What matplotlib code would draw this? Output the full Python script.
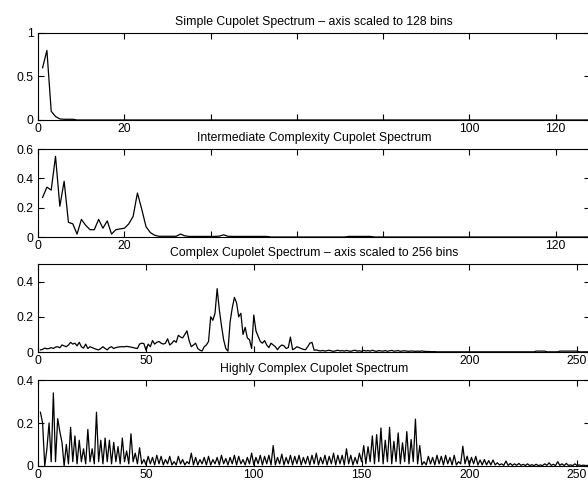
import matplotlib
matplotlib.use('Agg')
import matplotlib.pyplot as plt

plt.rcParams['font.family'] = ['Liberation Sans', 'DejaVu Sans']

# Spectrum titles, top to bottom
titles = [
    'Simple Cupolet Spectrum \u2013 axis scaled to 128 bins',
    'Intermediate Complexity Cupolet Spectrum',
    'Complex Cupolet Spectrum \u2013 axis scaled to 256 bins',
    'Highly Complex Cupolet Spectrum',
]

# Simple cupolet, 128 bins
simple_spectrum = [
    0.60, 0.80, 0.10, 0.04, 0.012, 0.008, 0.008, 0.008, 0.0, 0.0, 0.0, 0.0, 0.0, 0.0, 0.0, 0.0,
    0.0, 0.0, 0.0, 0.0, 0.0, 0.0, 0.0, 0.0, 0.0, 0.0, 0.0, 0.0, 0.0, 0.0, 0.0, 0.0,
    0.0, 0.0, 0.0, 0.0, 0.0, 0.0, 0.0, 0.0, 0.0, 0.0, 0.0, 0.0, 0.0, 0.0, 0.0, 0.0,
    0.0, 0.0, 0.0, 0.0, 0.0, 0.0, 0.0, 0.0, 0.0, 0.0, 0.0, 0.0, 0.0, 0.0, 0.0, 0.0,
    0.0, 0.0, 0.0, 0.0, 0.0, 0.0, 0.0, 0.0, 0.0, 0.0, 0.0, 0.0, 0.0, 0.0, 0.0, 0.0,
    0.0, 0.0, 0.0, 0.0, 0.0, 0.0, 0.0, 0.0, 0.0, 0.0, 0.0, 0.0, 0.0, 0.0, 0.0, 0.0,
    0.0, 0.0, 0.0, 0.0, 0.0, 0.0, 0.0, 0.0, 0.0, 0.0, 0.0, 0.0, 0.0, 0.0, 0.0, 0.0,
    0.0, 0.0, 0.0, 0.0, 0.0, 0.0, 0.0, 0.0, 0.0, 0.0, 0.0, 0.0, 0.0, 0.0, 0.0, 0.0,
]

# Intermediate complexity cupolet, 128 bins
intermediate_spectrum = [
    0.27, 0.34, 0.32, 0.55, 0.21, 0.38, 0.10, 0.09, 0.02, 0.12, 0.08, 0.05, 0.05, 0.12, 0.06, 0.11,
    0.02, 0.05, 0.055, 0.06, 0.09, 0.14, 0.30, 0.19, 0.07, 0.03, 0.012, 0.005, 0.005, 0.005, 0.005, 0.005,
    0.02, 0.008, 0.004, 0.004, 0.004, 0.004, 0.004, 0.004, 0.004, 0.006, 0.015, 0.005, 0.004, 0.004, 0.004, 0.004,
    0.004, 0.004, 0.004, 0.004, 0.004, 0.0, 0.0, 0.0, 0.0, 0.0, 0.0, 0.0, 0.0, 0.0, 0.0, 0.0,
    0.0, 0.0, 0.0, 0.0, 0.0, 0.0, 0.0, 0.004, 0.004, 0.004, 0.004, 0.004, 0.004, 0.0, 0.0, 0.0,
    0.0, 0.0, 0.0, 0.0, 0.0, 0.0, 0.0, 0.0, 0.0, 0.0, 0.0, 0.0, 0.0, 0.0, 0.0, 0.0,
    0.0, 0.0, 0.0, 0.0, 0.0, 0.0, 0.0, 0.0, 0.0, 0.0, 0.0, 0.0, 0.0, 0.0, 0.0, 0.0,
    0.0, 0.0, 0.0, 0.0, 0.0, 0.0, 0.0, 0.0, 0.0, 0.0, 0.0, 0.0, 0.0, 0.0, 0.0, 0.0,
]

# Complex cupolet, 256 bins
complex_spectrum = [
    0.012, 0.015, 0.022, 0.018, 0.02, 0.025, 0.02, 0.028, 0.03, 0.024, 0.04, 0.035, 0.03, 0.04, 0.055, 0.045,
    0.05, 0.035, 0.055, 0.03, 0.022, 0.045, 0.02, 0.03, 0.025, 0.02, 0.015, 0.012, 0.02, 0.03, 0.02, 0.012,
    0.025, 0.03, 0.02, 0.025, 0.028, 0.03, 0.03, 0.03, 0.032, 0.03, 0.028, 0.025, 0.022, 0.02, 0.045, 0.05,
    0.048, 0.01, 0.045, 0.03, 0.065, 0.045, 0.055, 0.06, 0.05, 0.045, 0.05, 0.075, 0.04, 0.05, 0.065, 0.055,
    0.095, 0.085, 0.08, 0.10, 0.12, 0.065, 0.03, 0.04, 0.05, 0.02, 0.01, 0.006, 0.03, 0.04, 0.06, 0.20,
    0.18, 0.22, 0.36, 0.24, 0.15, 0.07, 0.02, 0.005, 0.17, 0.25, 0.31, 0.28, 0.20, 0.22, 0.10, 0.14,
    0.08, 0.07, 0.02, 0.21, 0.12, 0.09, 0.06, 0.05, 0.065, 0.04, 0.025, 0.05, 0.04, 0.03, 0.013, 0.03,
    0.04, 0.035, 0.02, 0.025, 0.085, 0.013, 0.02, 0.03, 0.025, 0.02, 0.015, 0.013, 0.03, 0.05, 0.055, 0.01,
    0.012, 0.008, 0.006, 0.009, 0.005, 0.008, 0.01, 0.006, 0.004, 0.007, 0.01, 0.006, 0.008, 0.005, 0.009, 0.006,
    0.004, 0.008, 0.01, 0.005, 0.007, 0.004, 0.009, 0.006, 0.008, 0.005, 0.01, 0.006, 0.004, 0.008, 0.006, 0.005,
    0.008, 0.004, 0.007, 0.009, 0.005, 0.006, 0.008, 0.004, 0.006, 0.007, 0.005, 0.004, 0.006, 0.005, 0.004, 0.005,
    0.004, 0.006, 0.004, 0.003, 0.003, 0.002, 0.002, 0.002, 0.001, 0.001, 0.001, 0.001, 0.001, 0.001, 0.001, 0.001,
    0.001, 0.001, 0.001, 0.001, 0.001, 0.001, 0.001, 0.001, 0.001, 0.001, 0.001, 0.001, 0.001, 0.001, 0.001, 0.001,
    0.001, 0.001, 0.001, 0.001, 0.001, 0.001, 0.001, 0.001, 0.001, 0.001, 0.001, 0.001, 0.001, 0.001, 0.001, 0.001,
    0.001, 0.001, 0.001, 0.001, 0.001, 0.001, 0.005, 0.005, 0.005, 0.005, 0.005, 0.001, 0.001, 0.001, 0.001, 0.001,
    0.001, 0.005, 0.005, 0.005, 0.005, 0.005, 0.005, 0.005, 0.005, 0.005, 0.001, 0.001, 0.001, 0.001, 0.001, 0.001,
]

# Highly complex cupolet, 256 bins
highly_complex_spectrum = [
    0.25, 0.20, 0.0, 0.08, 0.20, 0.02, 0.34, 0.02, 0.22, 0.16, 0.11, 0.0, 0.10, 0.01, 0.18, 0.02,
    0.14, 0.01, 0.12, 0.02, 0.08, 0.01, 0.17, 0.02, 0.08, 0.01, 0.25, 0.02, 0.12, 0.01, 0.13, 0.02,
    0.12, 0.01, 0.11, 0.02, 0.09, 0.01, 0.13, 0.02, 0.07, 0.01, 0.15, 0.02, 0.06, 0.01, 0.085, 0.01,
    0.03, 0.005, 0.045, 0.01, 0.04, 0.005, 0.05, 0.01, 0.045, 0.005, 0.03, 0.01, 0.045, 0.005, 0.02, 0.005,
    0.045, 0.01, 0.03, 0.005, 0.02, 0.01, 0.06, 0.005, 0.04, 0.005, 0.03, 0.01, 0.04, 0.005, 0.045, 0.005,
    0.03, 0.01, 0.04, 0.005, 0.05, 0.01, 0.035, 0.005, 0.04, 0.01, 0.05, 0.005, 0.045, 0.01, 0.03, 0.005,
    0.04, 0.01, 0.06, 0.005, 0.04, 0.01, 0.05, 0.005, 0.045, 0.01, 0.05, 0.005, 0.095, 0.005, 0.04, 0.01,
    0.055, 0.005, 0.04, 0.01, 0.05, 0.005, 0.045, 0.01, 0.05, 0.005, 0.04, 0.01, 0.045, 0.005, 0.05, 0.01,
    0.06, 0.005, 0.04, 0.01, 0.05, 0.005, 0.045, 0.01, 0.06, 0.005, 0.05, 0.01, 0.05, 0.005, 0.08, 0.01,
    0.05, 0.005, 0.04, 0.01, 0.06, 0.02, 0.095, 0.01, 0.09, 0.02, 0.14, 0.01, 0.146, 0.02, 0.177, 0.01,
    0.12, 0.02, 0.18, 0.01, 0.115, 0.02, 0.154, 0.01, 0.108, 0.02, 0.16, 0.01, 0.123, 0.02, 0.218, 0.01,
    0.095, 0.005, 0.02, 0.005, 0.045, 0.01, 0.04, 0.005, 0.05, 0.01, 0.045, 0.005, 0.05, 0.01, 0.04, 0.005,
    0.05, 0.005, 0.02, 0.01, 0.092, 0.01, 0.046, 0.005, 0.04, 0.01, 0.045, 0.005, 0.028, 0.005, 0.03, 0.005,
    0.025, 0.005, 0.028, 0.005, 0.015, 0.005, 0.01, 0.003, 0.023, 0.003, 0.012, 0.003, 0.01, 0.003, 0.012, 0.003,
    0.008, 0.002, 0.01, 0.002, 0.006, 0.002, 0.008, 0.002, 0.005, 0.002, 0.01, 0.003, 0.015, 0.003, 0.008, 0.002,
    0.02, 0.003, 0.01, 0.002, 0.012, 0.003, 0.005, 0.002, 0.01, 0.002, 0.005, 0.002, 0.004, 0.002, 0.003, 0.002,
]

# Axis limits and ticks for each panel
xlims = [128, 128, 256, 256]
ylims = [1.0, 0.6, 0.5, 0.4]
xticks_128 = [0, 20, 40, 60, 80, 100, 120]
xticks_256 = [0, 50, 100, 150, 200, 250]
yticks = [[0, 0.5, 1], [0, 0.2, 0.4, 0.6], [0, 0.2, 0.4], [0, 0.2, 0.4]]
ytick_labels = [['0', '0.5', '1'], ['0', '0.2', '0.4', '0.6'], ['0', '0.2', '0.4'], ['0', '0.2', '0.4']]
# labels under a following panel's title are left blank
xtick_labels = [
    ['0', '20', '', '', '', '100', '120'],
    ['0', '20', '', '', '', '', '120'],
    ['0', '50', '', '', '200', '250'],
    ['0', '50', '100', '150', '200', '250'],
]

# panel rectangles in figure fractions (left, bottom, width, height)
panel_rects = [
    (0.0651, 0.7516, 0.9383, 0.1801),
    (0.0651, 0.5093, 0.9383, 0.1822),
    (0.0651, 0.2712, 0.9383, 0.1822),
    (0.0651, 0.0352, 0.9383, 0.1780),
]


def draw_panel(fig, rect, values, xmax, ymax, xticks, xlabels, yt, ylabels, title):
    """Draw one spectrum as a thin black line inside a boxed axes."""
    ax = fig.add_axes(rect)
    bins = list(range(1, len(values) + 1))
    ax.plot(bins, values, color='black', linewidth=0.9)
    ax.set_xlim(0, xmax)
    ax.set_ylim(0, ymax)
    ax.set_xticks(xticks)
    ax.set_xticklabels(xlabels)
    ax.set_yticks(yt)
    ax.set_yticklabels(ylabels)
    ax.tick_params(direction='in', length=4, width=0.8, top=True, right=True,
                   labelsize=8.8)
    ax.tick_params(axis='x', pad=2.5)
    for spine in ax.spines.values():
        spine.set_linewidth(0.8)
    ax.set_title(title, fontsize=8.8, pad=6)
    return ax


if __name__ == "__main__":
    fig = plt.figure(figsize=(5.88, 4.83), dpi=100)
    spectra = [simple_spectrum, intermediate_spectrum, complex_spectrum, highly_complex_spectrum]
    tick_sets = [xticks_128, xticks_128, xticks_256, xticks_256]
    for i in range(4):
        draw_panel(fig, panel_rects[i], spectra[i], xlims[i], ylims[i], tick_sets[i],
                   xtick_labels[i], yticks[i], ytick_labels[i], titles[i])
    fig.savefig('out.png', dpi=100)
